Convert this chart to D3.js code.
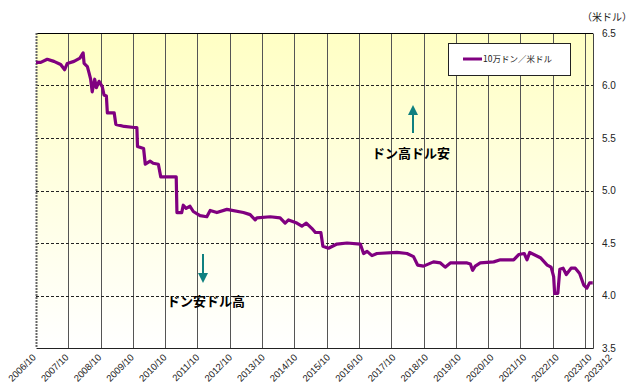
<!DOCTYPE html>
<html>
<head>
<meta charset="utf-8">
<script src="https://cdn.jsdelivr.net/npm/d3@7"></script>
<style>
  body { margin: 0; background: #fff; }
  text { font-family: "Liberation Sans", Arial, "Noto Sans CJK JP", sans-serif; }
  .jp { font-family: "Noto Sans CJK JP", sans-serif; }
</style>
</head>
<body>
<div id="chart"></div>
<script>
// dong per USD (100k dong / USD)
const dates = [
  "2006-10-01","2006-11-24","2007-02-05","2007-04-22","2007-07-07","2007-08-21","2007-09-20","2007-12-05",
  "2008-02-10","2008-03-17","2008-03-28","2008-05-04","2008-05-23","2008-06-10","2008-06-28","2008-07-26",
  "2008-08-14","2008-09-13","2008-10-19","2008-11-08","2008-12-05","2008-12-16","2009-03-03","2009-03-22",
  "2009-06-25","2009-10-16","2009-11-15","2009-11-22","2010-01-30","2010-02-18","2010-04-13","2010-05-18",
  "2010-07-16","2010-08-12","2011-02-03","2011-02-11","2011-04-06","2011-04-24","2011-05-26","2011-07-09",
  "2011-08-15","2011-10-30","2012-01-15","2012-02-22","2012-05-08","2012-08-29","2013-03-04","2013-05-19",
  "2013-07-15","2013-08-04","2014-01-01","2014-04-23","2014-06-19","2014-07-27","2014-10-29","2014-12-25",
  "2015-02-13","2015-04-16","2015-05-27","2015-07-28","2015-08-20","2015-10-22","2016-01-26","2016-05-19",
  "2016-10-16","2016-11-22","2017-01-01","2017-02-25","2017-04-22","2017-12-05","2018-03-28","2018-06-10",
  "2018-07-26","2018-10-01","2019-01-22","2019-04-10","2019-06-03","2019-07-31","2020-02-06","2020-03-14",
  "2020-04-08","2020-05-08","2020-07-04","2020-12-03","2021-02-16","2021-07-17","2021-09-12","2021-11-13",
  "2021-12-15","2022-01-14","2022-05-15","2022-07-31","2022-09-13","2022-10-12","2022-10-23","2022-11-28",
  "2022-12-21","2023-01-27","2023-03-04","2023-04-27","2023-06-14","2023-08-02","2023-09-17","2023-10-23",
  "2023-11-22","2023-12-28"
];
const rates = [
  6.22,6.22,6.25,6.23,6.20,6.15,6.21,6.23,
  6.26,6.31,6.21,6.18,6.12,6.06,5.94,6.06,
  5.98,6.04,5.99,5.91,5.90,5.74,5.74,5.63,
  5.61,5.60,5.60,5.42,5.40,5.25,5.28,5.26,
  5.25,5.13,5.13,4.79,4.79,4.86,4.83,4.85,
  4.80,4.76,4.75,4.81,4.79,4.82,4.79,4.77,
  4.72,4.74,4.75,4.74,4.69,4.72,4.69,4.66,
  4.69,4.64,4.60,4.60,4.47,4.45,4.49,4.50,
  4.49,4.40,4.42,4.38,4.40,4.41,4.40,4.37,
  4.29,4.28,4.32,4.31,4.27,4.31,4.31,4.30,
  4.24,4.28,4.31,4.32,4.34,4.34,4.39,4.40,
  4.34,4.41,4.36,4.29,4.27,4.18,4.02,4.02,
  4.25,4.26,4.20,4.26,4.26,4.21,4.10,4.07,
  4.12,4.12
];

const xTickDates = ["2006-10-01","2007-10-01","2008-10-01","2009-10-01","2010-10-01","2011-10-01",
  "2012-10-01","2013-10-01","2014-10-01","2015-10-01","2016-10-01","2017-10-01","2018-10-01",
  "2019-10-01","2020-10-01","2021-10-01","2022-10-01","2023-10-01","2023-12-31"];
const xTickLabels = ["2006/10","2007/10","2008/10","2009/10","2010/10","2011/10","2012/10","2013/10",
  "2014/10","2015/10","2016/10","2017/10","2018/10","2019/10","2020/10","2021/10","2022/10","2023/10","2023/12"];
const yTicks = [3.5, 4.0, 4.5, 5.0, 5.5, 6.0, 6.5];

const seriesName = "10万ドン／米ドル";
const unitLabel = "（米ドル）";

const W = 633, H = 383;
const margin = { top: 33, right: 40, bottom: 35, left: 36 };
const width = W - margin.left - margin.right,
      height = H - margin.top - margin.bottom;

const parse = d3.timeParse("%Y-%m-%d");
const data = dates.map((d, i) => ({ date: parse(d), v: rates[i] }));
const tickDates = xTickDates.map(parse);

const svg = d3.select("#chart").append("svg")
    .attr("width", W).attr("height", H);

const defs = svg.append("defs");
const grad = defs.append("linearGradient").attr("id", "bg")
    .attr("x1", 0).attr("y1", 0).attr("x2", 0).attr("y2", 1);
grad.append("stop").attr("offset", "0%").attr("stop-color", "#ffffc4");
grad.append("stop").attr("offset", "100%").attr("stop-color", "#ffffff");

const g = svg.append("g")
    .attr("transform", "translate(" + margin.left + "," + margin.top + ")");

const x = d3.scaleTime().domain([tickDates[0], tickDates[tickDates.length - 1]]).range([0, width]);
const y = d3.scaleLinear().domain([3.5, 6.5]).range([height, 0]);

g.append("rect").attr("width", width).attr("height", height).attr("fill", "url(#bg)");

// vertical grid
g.append("g").selectAll("line")
  .data(tickDates.slice(1, -1))
  .join("line")
    .attr("x1", d => Math.round(x(d)) + 0.5).attr("x2", d => Math.round(x(d)) + 0.5)
    .attr("y1", 0).attr("y2", height)
    .attr("stroke", "#555").attr("stroke-width", 1);

// horizontal grid
g.append("g").selectAll("line")
  .data(yTicks.slice(1, -1))
  .join("line")
    .attr("x1", 0).attr("x2", width)
    .attr("y1", d => Math.round(y(d)) + 0.5).attr("y2", d => Math.round(y(d)) + 0.5)
    .attr("stroke", "#222").attr("stroke-width", 1)
    .attr("stroke-dasharray", "3,2");

// frame
g.append("line").attr("x1", 0).attr("x2", width).attr("y1", 0.5).attr("y2", 0.5).attr("stroke", "#000");
g.append("line").attr("x1", 0.5).attr("x2", 0.5).attr("y1", 0).attr("y2", height)
  .attr("stroke", "#666").attr("stroke-width", 2).attr("stroke-dasharray", "2,1");

// right y axis
const yAxis = d3.axisRight(y).tickValues(yTicks).tickFormat(d3.format(".1f")).tickSize(0).tickPadding(9);
g.append("g").attr("transform", "translate(" + width + ",0)").call(yAxis)
  .call(a => a.select(".domain").attr("stroke", "#444"))
  .call(a => a.selectAll("text").attr("font-size", 10).attr("fill", "#222"));

// bottom x axis (labels drift slightly right like the original, last one pushed out)
const xAxis = d3.axisBottom(x).tickValues(tickDates)
  .tickFormat((d, i) => xTickLabels[i]).tickSize(0);
g.append("g").attr("transform", "translate(0," + height + ")").call(xAxis)
  .call(a => a.select(".domain").attr("stroke", "#222"))
  .call(a => a.selectAll("text")
    .attr("font-size", 9.5).attr("fill", "#222")
    .attr("text-anchor", "end")
    .attr("dy", null).attr("y", 0)
    .attr("transform", (d, i) => {
      const dx = i === xTickLabels.length - 1 ? 19 : i * 0.4;
      return "translate(" + dx + ",10) rotate(-45)";
    }));

// series line
g.append("path").datum(data)
  .attr("fill", "none")
  .attr("stroke", "#800080")
  .attr("stroke-width", 3.2)
  .attr("stroke-linejoin", "round")
  .attr("d", d3.line().x(d => x(d.date)).y(d => y(d.v)));

// legend
const lg = svg.append("g").attr("transform", "translate(448,43)");
lg.append("rect").attr("x", 0.5).attr("y", 0.5).attr("width", 122).attr("height", 32)
  .attr("fill", "#fff").attr("stroke", "#222");
lg.append("line").attr("x1", 15).attr("x2", 34).attr("y1", 16).attr("y2", 16)
  .attr("stroke", "#800080").attr("stroke-width", 3);
lg.append("text").attr("class", "jp").attr("x", 35).attr("y", 16).attr("dy", "0.35em")
  .attr("font-size", 8.5).attr("fill", "#222").text(seriesName);

// unit
svg.append("text").attr("class", "jp").attr("x", 582).attr("y", 21)
  .attr("font-size", 10).attr("fill", "#222").text(unitLabel);

// annotations
const arrowCol = "#0f8080";
defs.append("marker").attr("id", "ah").attr("viewBox", "0 0 10 10")
  .attr("refX", 5).attr("refY", 5).attr("markerWidth", 5).attr("markerHeight", 5)
  .attr("orient", "auto")
  .append("path").attr("d", "M0,0 L10,5 L0,10 z").attr("fill", arrowCol);

svg.append("line").attr("x1", 413).attr("x2", 413).attr("y1", 133).attr("y2", 110)
  .attr("stroke", arrowCol).attr("stroke-width", 2).attr("marker-end", "url(#ah)");
svg.append("line").attr("x1", 203).attr("x2", 203).attr("y1", 254).attr("y2", 278)
  .attr("stroke", arrowCol).attr("stroke-width", 2).attr("marker-end", "url(#ah)");

svg.append("text").attr("class", "jp").attr("x", 411).attr("y", 158)
  .attr("text-anchor", "middle").attr("font-size", 13).attr("font-weight", "bold")
  .attr("fill", "#000").text("ドン高ドル安");
svg.append("text").attr("class", "jp").attr("x", 206).attr("y", 306)
  .attr("text-anchor", "middle").attr("font-size", 13).attr("font-weight", "bold")
  .attr("fill", "#000").text("ドン安ドル高");
</script>
</body>
</html>
